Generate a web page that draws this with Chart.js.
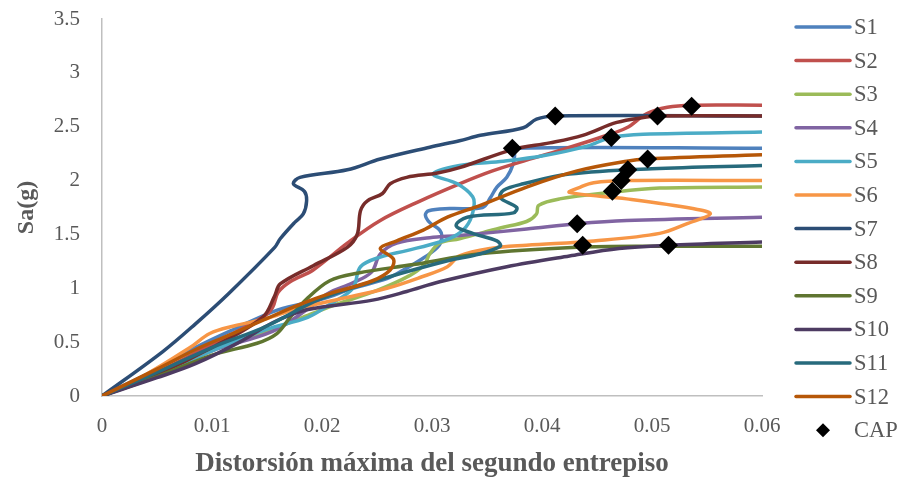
<!DOCTYPE html>
<html>
<head>
<meta charset="utf-8">
<script src="https://cdn.jsdelivr.net/npm/chart.js@4/dist/chart.umd.min.js"></script>
<style>
  html, body { margin: 0; padding: 0; background: #fff; }
  #wrap { width: 904px; height: 480px; }
</style>
</head>
<body>
<div id="wrap"><canvas id="c" width="904" height="480"></canvas></div>
<script>
// IDA curves: second-storey maximum drift (x) vs spectral acceleration Sa (g)
const seriesNames = ['S1','S2','S3','S4','S5','S6','S7','S8','S9','S10','S11','S12'];

const s1x = [0,0.005,0.0085,0.012,0.016,0.02,0.0228,0.0259,0.0274,0.0289,0.0305,0.0309,0.0307,0.0298,0.0294,0.0297,0.0316,0.0346,0.0353,0.0359,0.0368,0.0374,0.0375,0.0373,0.06];
const s1y = [0,0.25,0.45,0.62,0.8,0.9,1.0,1.09,1.17,1.26,1.38,1.47,1.54,1.61,1.68,1.72,1.74,1.75,1.84,1.94,2.03,2.16,2.25,2.30,2.30];

const s2x = [0,0.005,0.01,0.0146,0.0155,0.016,0.0171,0.0192,0.0223,0.0253,0.0289,0.0325,0.0355,0.0386,0.0416,0.0453,0.0477,0.0495,0.0514,0.0536,0.06];
const s2y = [0,0.22,0.48,0.73,0.82,0.96,1.06,1.17,1.42,1.63,1.81,1.97,2.09,2.19,2.28,2.40,2.49,2.62,2.68,2.70,2.70];

const s3x = [0,0.005,0.01,0.015,0.018,0.021,0.025,0.028,0.0293,0.0298,0.0307,0.0325,0.0362,0.0386,0.0395,0.0397,0.0416,0.0462,0.0507,0.06];
const s3y = [0,0.2,0.43,0.6,0.72,0.84,0.98,1.12,1.22,1.32,1.42,1.46,1.56,1.62,1.69,1.77,1.83,1.89,1.93,1.94];

const s4x = [0,0.005,0.01,0.0155,0.0186,0.0205,0.0228,0.0245,0.0253,0.0268,0.0298,0.0325,0.0386,0.0432,0.0477,0.06];
const s4y = [0,0.2,0.42,0.6,0.8,0.95,1.05,1.15,1.32,1.42,1.47,1.49,1.55,1.60,1.63,1.66];

const s5x = [0,0.005,0.01,0.015,0.0187,0.0207,0.0228,0.0235,0.0253,0.0277,0.0307,0.0323,0.0333,0.0338,0.0337,0.0323,0.0301,0.0325,0.0365,0.0401,0.0441,0.0463,0.0492,0.06];
const s5y = [0,0.2,0.42,0.62,0.73,0.85,1.0,1.2,1.29,1.35,1.43,1.5,1.6,1.75,1.85,1.97,2.06,2.14,2.18,2.23,2.32,2.40,2.43,2.45];

const s6x = [0,0.004,0.008,0.0098,0.012,0.015,0.0174,0.0216,0.0259,0.0289,0.0314,0.0325,0.0353,0.0386,0.0447,0.0507,0.0532,0.0553,0.0537,0.0477,0.0425,0.0435,0.0447,0.0477,0.06];
const s6y = [0,0.2,0.45,0.58,0.65,0.72,0.8,0.9,1.0,1.1,1.2,1.3,1.37,1.40,1.44,1.51,1.60,1.69,1.74,1.83,1.89,1.94,1.98,2.0,2.0];

const s7x = [0,0.0055,0.0085,0.0115,0.0157,0.0162,0.0175,0.0183,0.0186,0.0184,0.0174,0.018,0.0223,0.0253,0.0298,0.0325,0.0344,0.0383,0.0395,0.0412,0.06];
const s7y = [0,0.41,0.67,0.95,1.38,1.46,1.61,1.69,1.81,1.9,1.97,2.03,2.10,2.20,2.31,2.37,2.42,2.49,2.57,2.60,2.60];

const s8x = [0,0.005,0.01,0.0146,0.0157,0.0162,0.0192,0.0223,0.0232,0.0235,0.0241,0.0255,0.0262,0.0277,0.0305,0.0325,0.0374,0.0407,0.0437,0.0468,0.0495,0.0505,0.06];
const s8y = [0,0.2,0.45,0.73,0.93,1.04,1.21,1.38,1.5,1.72,1.81,1.88,1.97,2.03,2.07,2.12,2.29,2.35,2.42,2.54,2.59,2.60,2.60];

const s9x = [0,0.005,0.01,0.0141,0.0159,0.0171,0.0186,0.0207,0.0232,0.0283,0.0344,0.0432,0.05,0.06];
const s9y = [0,0.18,0.38,0.49,0.58,0.73,0.9,1.07,1.14,1.22,1.32,1.38,1.39,1.39];

const s10x = [0,0.005,0.0085,0.0125,0.0155,0.0186,0.0246,0.0277,0.0307,0.0368,0.0425,0.047,0.0515,0.06];
const s10y = [0,0.17,0.3,0.5,0.68,0.8,0.89,0.97,1.06,1.2,1.3,1.37,1.40,1.43];

const s11x = [0,0.005,0.01,0.015,0.0198,0.0259,0.0316,0.034,0.0362,0.0359,0.0337,0.0322,0.0332,0.0374,0.0377,0.0362,0.0365,0.0383,0.0425,0.05,0.06];
const s11y = [0,0.22,0.45,0.65,0.9,1.1,1.26,1.31,1.39,1.44,1.51,1.58,1.66,1.70,1.75,1.84,1.91,1.97,2.06,2.11,2.14];

const s12x = [0,0.005,0.0089,0.0119,0.015,0.018,0.0207,0.0246,0.0262,0.0265,0.0253,0.0268,0.0292,0.0314,0.0344,0.0386,0.0432,0.0477,0.0496,0.06];
const s12y = [0,0.25,0.45,0.58,0.72,0.85,0.95,1.07,1.17,1.27,1.37,1.44,1.54,1.66,1.77,1.94,2.09,2.18,2.20,2.24];

// collapse points (CAP)
const capX = [0.0373,0.0536,0.0464,0.0432,0.0463,0.0472,0.0412,0.0505,0.0437,0.0515,0.0478,0.0496];
const capY = [2.30,2.69,1.90,1.60,2.40,2.00,2.60,2.60,1.40,1.40,2.10,2.20];

const xTicks = [0,0.01,0.02,0.03,0.04,0.05,0.06];
const yTicks = [0,0.5,1,1.5,2,2.5,3,3.5];

const seriesColors = ['#4F81BD','#C0504D','#9BBB59','#8064A2','#4BACC6','#F79646',
                      '#2C4D75','#772C2A','#5F7530','#4D3B62','#276A7C','#B65708'];

const xs = [s1x,s2x,s3x,s4x,s5x,s6x,s7x,s8x,s9x,s10x,s11x,s12x];
const ys = [s1y,s2y,s3y,s4y,s5y,s6y,s7y,s8y,s9y,s10y,s11y,s12y];

const FONT = "'Liberation Serif', 'Times New Roman', serif";
const TEXT = '#595959';

const pts = (ax, ay) => ax.map((v, i) => ({ x: v, y: ay[i] }));

const datasets = seriesNames.map((name, i) => ({
  label: name,
  data: pts(xs[i], ys[i]),
  showLine: true,
  borderColor: seriesColors[i],
  backgroundColor: seriesColors[i],
  borderWidth: 3.5,
  pointRadius: 0,
  tension: 0.35,
  fill: false,
  order: seriesNames.length - i + 1
}));
datasets.push({
  label: 'CAP',
  data: pts(capX, capY),
  showLine: false,
  pointStyle: 'rectRot',
  pointRadius: 9.5,
  pointBorderWidth: 0,
  backgroundColor: '#000',
  borderColor: '#000',
  order: 0
});

// legend drawn in the right margin
const sideLegend = {
  id: 'sideLegend',
  afterDraw(chart) {
    const ctx = chart.ctx;
    const x0 = chart.chartArea.right + 34;
    const y0 = 27, step = 33.6;
    ctx.save();
    ctx.font = '22.5px ' + FONT;
    ctx.textBaseline = 'middle';
    ctx.textAlign = 'left';
    chart.data.datasets.forEach((ds, i) => {
      const y = y0 + i * step;
      if (ds.showLine) {
        ctx.strokeStyle = ds.borderColor;
        ctx.lineWidth = 3.5;
        ctx.lineCap = 'round';
        ctx.beginPath();
        ctx.moveTo(x0, y);
        ctx.lineTo(x0 + 54, y);
        ctx.stroke();
      } else {
        ctx.fillStyle = ds.backgroundColor;
        ctx.beginPath();
        ctx.moveTo(x0 + 27 - 7, y);
        ctx.lineTo(x0 + 27, y - 7);
        ctx.lineTo(x0 + 27 + 7, y);
        ctx.lineTo(x0 + 27, y + 7);
        ctx.closePath();
        ctx.fill();
      }
      ctx.fillStyle = TEXT;
      ctx.fillText(ds.label, x0 + 58, y + 1);
    });
    ctx.restore();
  }
};

new Chart(document.getElementById('c'), {
  type: 'scatter',
  data: { datasets },
  options: {
    responsive: false,
    animation: false,
    devicePixelRatio: 1,
    layout: { padding: { top: 19, right: 142, bottom: 0, left: 0 } },
    plugins: { legend: { display: false }, tooltip: { enabled: false } },
    scales: {
      x: {
        type: 'linear', min: 0, max: 0.06,
        afterFit: s => { s.height = 84; s.paddingLeft = 0; s.paddingRight = 0; },
        afterBuildTicks: s => { s.ticks = xTicks.map(v => ({ value: v })); },
        grid: { display: false },
        border: { display: true, color: '#BFBFBF', width: 1.5 },
        ticks: {
          color: TEXT, padding: 10, font: { family: FONT, size: 21 },
          callback: v => String(Number(v.toFixed(2)))
        },
        title: {
          display: true, text: 'Distorsión máxima del segundo entrepiso',
          color: TEXT, font: { family: FONT, size: 27, weight: 'bold' },
          padding: { top: 0, bottom: 0 }
        }
      },
      y: {
        type: 'linear', min: 0, max: 3.5,
        afterFit: s => { s.width = 102; s.paddingTop = 0; s.paddingBottom = 0; },
        afterBuildTicks: s => { s.ticks = yTicks.map(v => ({ value: v })); },
        grid: { display: false },
        border: { display: true, color: '#BFBFBF', width: 1.5 },
        ticks: {
          color: TEXT, padding: 14, font: { family: FONT, size: 21 },
          callback: v => String(Number(v.toFixed(1)))
        },
        title: {
          display: true, text: 'Sa(g)',
          color: TEXT, font: { family: FONT, size: 24, weight: 'bold' },
          padding: { top: 12, bottom: 0 }
        }
      }
    }
  },
  plugins: [sideLegend]
});
</script>
</body>
</html>
